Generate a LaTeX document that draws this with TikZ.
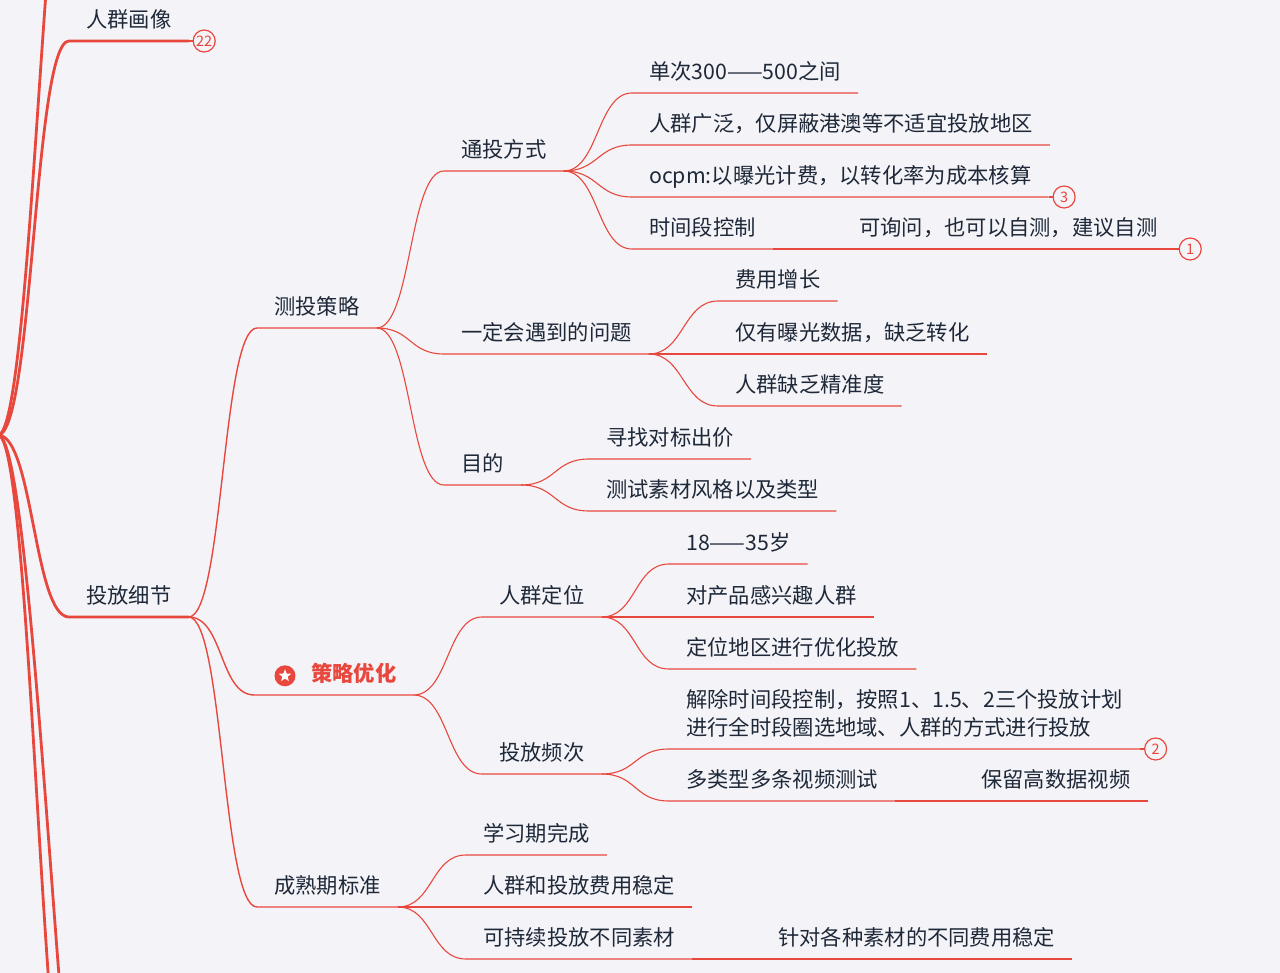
\documentclass[tikz,border=0pt]{standalone}
\usepackage{fontspec}
\setmainfont{Noto Sans CJK SC}
\usetikzlibrary{shapes.geometric,positioning}
\definecolor{mapred}{HTML}{E8473D}
\definecolor{maptext}{HTML}{1E2838}
\definecolor{mapbg}{HTML}{F4F4F8}

\tikzset{
  topic/.style={anchor=south west, inner xsep=17pt, inner ysep=8pt,
    text height=15pt, text depth=5pt, text=maptext,
    font=\fontsize{21.3}{28}\selectfont},
  hot/.style={text=mapred, font=\fontsize{21.3}{28}\selectfont\bfseries},
  badge/.style={circle, draw=mapred, line width=1.2pt, text=mapred, fill=mapbg,
    inner sep=0pt, minimum size=22pt, font=\fontsize{14.5}{14.5}\selectfont},
  icon/.style={circle, fill=mapred, minimum size=21pt, inner sep=0pt},
  trunk/.style={draw=mapred, line width=2.8pt, line cap=round},
  branch/.style={draw=mapred, line width=1.4pt},
  twig/.style={draw=mapred, line width=1.1pt},
}

\begin{document}
\begin{tikzpicture}[x=1pt, y=-1pt]
\fill[mapbg] (0,0) rectangle (1280,973);
\useasboundingbox (0,0) rectangle (1280,973);
\clip (0,0) rectangle (1280,973);

% main topics
\coordinate (root) at (-2,435);
\coordinate (upper) at (80,-250);
\coordinate (lowA) at (82,1200);
\coordinate (lowB) at (105,1320);
\node[topic] (portrait) at (69,41) {人群画像};
\node[topic] (deliver) at (69,617) {投放细节};

% second level
\node[topic] (test) at (257,328) {测投策略};
\node[topic, hot] (opt) at (294,695) {策略优化};
\node[icon] (star) at ([xshift=-9pt,yshift=1pt]opt.west) {};
\node[star, star points=5, star point ratio=2.3, fill=white, inner sep=0pt,
  minimum size=13pt] at (star) {};
\node[topic] (mature) at (257,907) {成熟期标准};

% test
\node[topic] (tongtou) at (444,171) {通投方式};
\node[topic] (problem) at (444,354) {一定会遇到的问题};
\node[topic] (goal) at (444,485) {目的};

\node[topic] (t1) at (632,93) {单次300——500之间};
\node[topic] (t2) at (632,145) {人群广泛，仅屏蔽港澳等不适宜投放地区};
\node[topic] (t3) at (632,197) {ocpm:以曝光计费，以转化率为成本核算};
\node[topic] (t4) at (632,249) {时间段控制};
\node[topic] (t4a) at (842,249) {可询问，也可以自测，建议自测};

\node[topic] (p1) at (718,301) {费用增长};
\node[topic] (p2) at (718,354) {仅有曝光数据，缺乏转化};
\node[topic] (p3) at (718,406) {人群缺乏精准度};

\node[topic] (g1) at (589,459) {寻找对标出价};
\node[topic] (g2) at (589,511) {测试素材风格以及类型};

% opt
\node[topic] (crowd) at (482,617) {人群定位};
\node[topic] (freq) at (482,774) {投放频次};

\node[topic] (c1) at (669,564) {18——35岁};
\node[topic] (c2) at (669,617) {对产品感兴趣人群};
\node[topic] (c3) at (669,669) {定位地区进行优化投放};

\node[topic] (f1) at (669,749) {\begin{tabular}[b]{@{}l@{}}解除时间段控制，按照1、1.5、2三个投放计划\\进行全时段圈选地域、人群的方式进行投放\end{tabular}};
\node[topic] (f2) at (669,801) {多类型多条视频测试};
\node[topic] (f2a) at (964,801) {保留高数据视频};

% mature
\node[topic] (m1) at (466,855) {学习期完成};
\node[topic] (m2) at (466,907) {人群和投放费用稳定};
\node[topic] (m3) at (466,959) {可持续投放不同素材};
\node[topic] (m3a) at (761,959) {针对各种素材的不同费用稳定};

% badges
\node[badge, right=4pt of portrait.south east] (n22) {22};
\node[badge, right=4pt of t3.south east] (n3) {3};
\node[badge, right=4pt of t4a.south east] (n1) {1};
\node[badge, right=4pt of f1.south east] (n2) {2};

% links
\draw[trunk] (root) .. controls +(35,0) and +(-35,0) .. (portrait.south west) -- (portrait.south east);
\draw[trunk] (root) .. controls +(35,0) and +(-35,0) .. (deliver.south west) -- (deliver.south east);
\draw[trunk] (root) .. controls +(35,0) and +(-35,0) .. (upper);
\draw[trunk] (root) .. controls +(35,0) and +(-40,0) .. (lowA);
\draw[trunk] (root) .. controls +(40,0) and +(-40,0) .. (lowB);

\foreach \c in {test,mature}
  \draw[branch] (deliver.south east) .. controls +(35,0) and +(-35,0) .. (\c.south west) -- (\c.south east);
\draw[branch] (deliver.south east) .. controls +(35,0) and +(-35,0) .. ([xshift=-20pt]star.west |- opt.south) -- (opt.south east);

\foreach \c in {tongtou,problem,goal}
  \draw[twig] (test.south east) .. controls +(35,0) and +(-35,0) .. (\c.south west) -- (\c.south east);
\foreach \c in {t1,t2,t3,t4}
  \draw[twig] (tongtou.south east) .. controls +(35,0) and +(-35,0) .. (\c.south west) -- (\c.south east);
\foreach \c in {p1,p2,p3}
  \draw[twig] (problem.south east) .. controls +(35,0) and +(-35,0) .. (\c.south west) -- (\c.south east);
\foreach \c in {g1,g2}
  \draw[twig] (goal.south east) .. controls +(35,0) and +(-35,0) .. (\c.south west) -- (\c.south east);
\foreach \c in {crowd,freq}
  \draw[twig] (opt.south east) .. controls +(35,0) and +(-35,0) .. (\c.south west) -- (\c.south east);
\foreach \c in {c1,c2,c3}
  \draw[twig] (crowd.south east) .. controls +(35,0) and +(-35,0) .. (\c.south west) -- (\c.south east);
\foreach \c in {f1,f2}
  \draw[twig] (freq.south east) .. controls +(35,0) and +(-35,0) .. (\c.south west) -- (\c.south east);
\foreach \c in {m1,m2,m3}
  \draw[twig] (mature.south east) .. controls +(35,0) and +(-35,0) .. (\c.south west) -- (\c.south east);

\draw[twig] (t4.south east) -- (t4a.south east);
\draw[twig] (f2.south east) -- (f2a.south east);
\draw[twig] (m3.south east) -- (m3a.south east);

\draw[twig] (portrait.south east) -- (n22);
\draw[twig] (t3.south east) -- (n3);
\draw[twig] (t4a.south east) -- (n1);
\draw[twig] (f1.south east) -- (n2);
\end{tikzpicture}
\end{document}
